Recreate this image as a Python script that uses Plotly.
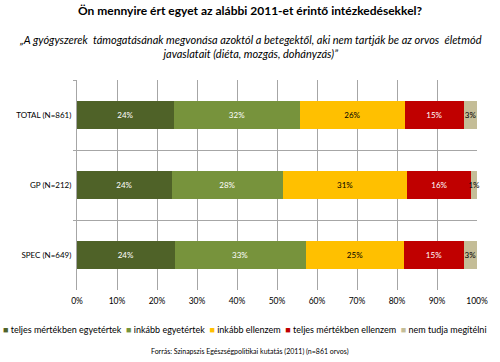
import plotly.graph_objects as go

categories = ["TOTAL (N=861)", "GP (N=212)", "SPEC (N=649)"]
series_names = ["teljes mértékben egyetértek", "inkább egyetértek", "inkább ellenzem",
                "teljes mértékben ellenzem", "nem tudja megítélni"]
teljes_egyet = [24.2, 23.7, 24.4]
inkabb_egyet = [31.6, 27.8, 32.8]
inkabb_ellen = [26.1, 31.1, 24.6]
teljes_ellen = [14.9, 16.0, 14.9]
nem_tudja = [3.2, 1.4, 3.3]
series_values = [teljes_egyet, inkabb_egyet, inkabb_ellen, teljes_ellen, nem_tudja]
colors = ["#4F6228", "#77933C", "#FFC000", "#C00000", "#C4BD97"]
text_colors = ["white", "white", "black", "white", "black"]
x_ticks = [0, 10, 20, 30, 40, 50, 60, 70, 80, 90, 100]

FONT = "Lato"

fig = go.Figure()
for name, vals, col, tcol in zip(series_names, series_values, colors, text_colors):
    fig.add_trace(go.Bar(
        y=categories, x=vals, name=name, orientation="h",
        marker=dict(color=col, line=dict(width=0)),
        texttemplate="%{x:.0f}%", textposition="inside", insidetextanchor="middle",
        constraintext="none", textangle=0,
        textfont=dict(color=tcol, size=8, family=FONT),
        showlegend=False, cliponaxis=False,
    ))

legend_html = "&nbsp;&nbsp;".join(
    f"<span style='color:{c}'>■</span> {n}" for n, c in zip(series_names, colors)
)

fig.update_layout(
    width=500, height=362,
    barmode="stack", bargap=0.61,
    plot_bgcolor="white", paper_bgcolor="white",
    margin=dict(l=77, r=23, t=80, b=72, autoexpand=False),
    font=dict(family=FONT, color="#000000"),
    xaxis=dict(range=[0, 100.001], tickvals=x_ticks, ticktext=[f"{v}%" for v in x_ticks],
               showgrid=True, gridcolor="#A6A6A6", gridwidth=1, zeroline=False,
               tickfont=dict(size=8.5, family=FONT), ticks="", showline=False,
               ticklabelstandoff=4),
    yaxis=dict(autorange="reversed", tickson="boundaries", showgrid=True,
               gridcolor="#A6A6A6", gridwidth=1, ticks="outside", ticklen=3,
               tickcolor="#A6A6A6", showline=True, linecolor="#A6A6A6",
               tickfont=dict(size=8, family=FONT), ticklabelstandoff=3),
    annotations=[
        dict(text="<b>Ön mennyire ért egyet az alábbi 2011-et érintő intézkedésekkel?</b>",
             xref="paper", yref="paper", x=0.4325, y=1, yshift=70, showarrow=False,
             xanchor="center", yanchor="middle", font=dict(size=12, family=FONT)),
        dict(text="<i>„A gyógyszerek  támogatásának megvonása azoktól a betegektől, aki nem tartják be az orvos  életmód<br>javaslatait (diéta, mozgás, dohányzás)”</i>",
             xref="paper", yref="paper", x=0.4325, y=1, yshift=33.5, showarrow=False,
             xanchor="center", yanchor="middle", font=dict(size=11, family=FONT)),
        dict(text=legend_html, xref="paper", yref="paper", x=0.42, y=0, yshift=-39,
             showarrow=False, xanchor="center", yanchor="middle",
             font=dict(size=9, family=FONT)),
        dict(text="Forrás: Szinapszis Egészségpolitikai kutatás (2011) (n=861 orvos)",
             xref="paper", yref="paper", x=0.4325, y=0, yshift=-61, showarrow=False,
             xanchor="center", yanchor="middle", font=dict(size=7, family=FONT)),
    ],
)

fig.write_html("out.html", config={"displayModeBar": False},
               post_script="document.body.style.margin='0';")
